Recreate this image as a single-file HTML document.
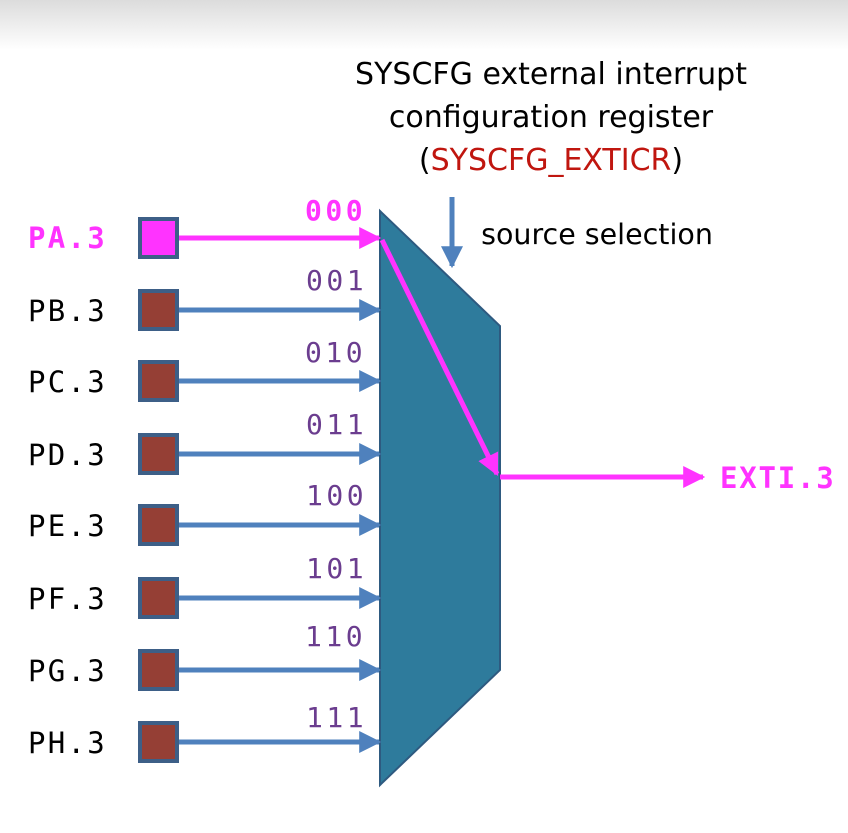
<!DOCTYPE html>
<html><head><meta charset="utf-8"><style>
html,body{margin:0;padding:0;background:#fff;}
svg{display:block;}
</style></head><body>
<svg width="848" height="833" viewBox="0 0 848 833" xmlns="http://www.w3.org/2000/svg">
<defs>
<linearGradient id="g" x1="0" y1="0" x2="0" y2="1">
<stop offset="0" stop-color="#dcdcdc"/><stop offset="1" stop-color="#ffffff"/>
</linearGradient>
<marker id="ab" viewBox="0 0 10 10" refX="9" refY="5" markerWidth="4.4" markerHeight="4.4" orient="auto" markerUnits="strokeWidth"><path d="M0,0 L10,5 L0,10 z" fill="#4f81bd"/></marker>
<marker id="am" viewBox="0 0 10 10" refX="9" refY="5" markerWidth="4.4" markerHeight="4.4" orient="auto" markerUnits="strokeWidth"><path d="M0,0 L10,5 L0,10 z" fill="#ff33ff"/></marker>
</defs>
<rect x="0" y="0" width="848" height="50" fill="url(#g)"/>
<g font-family="'DejaVu Sans','Liberation Sans',sans-serif" font-size="30" text-anchor="middle" fill="#000">
<text x="551" y="84">SYSCFG external interrupt</text>
<text x="551" y="127">configuration register</text>
<text x="551" y="170">(<tspan fill="#c0160f">SYSCFG_EXTICR</tspan>)</text>
<text x="597" y="244" font-size="28.5">source selection</text>
</g>
<line x1="452" y1="197" x2="452" y2="266" stroke="#4f81bd" stroke-width="5" marker-end="url(#ab)"/>
<polygon points="380,211 500,326 500,670 380,785" fill="#2e7b9c" stroke="#2e5a80" stroke-width="2"/>
<g stroke="#4f81bd" stroke-width="5" marker-end="url(#ab)">
<line x1="178" y1="310" x2="379" y2="310"/>
<line x1="178" y1="381" x2="379" y2="381"/>
<line x1="178" y1="454" x2="379" y2="454"/>
<line x1="178" y1="525" x2="379" y2="525"/>
<line x1="178" y1="598" x2="379" y2="598"/>
<line x1="178" y1="670" x2="379" y2="670"/>
<line x1="178" y1="742" x2="379" y2="742"/>
</g>
<g stroke="#ff33ff" stroke-width="5" fill="none">
<line x1="178" y1="238" x2="379" y2="238" marker-end="url(#am)"/>
<polyline points="382,240 497,474" marker-end="url(#am)"/>
<line x1="500" y1="477" x2="703" y2="477" marker-end="url(#am)"/>
</g>
<g stroke="#3d5f87" stroke-width="4" fill="#953f35">
<rect x="140" y="219" width="37" height="38" fill="#ff33ff"/>
<rect x="140" y="291" width="37" height="38"/>
<rect x="140" y="362" width="37" height="38"/>
<rect x="140" y="435" width="37" height="38"/>
<rect x="140" y="506" width="37" height="38"/>
<rect x="140" y="579" width="37" height="38"/>
<rect x="140" y="651" width="37" height="38"/>
<rect x="140" y="723" width="37" height="38"/>
</g>
<g font-family="'DejaVu Sans Mono','Liberation Mono',monospace" font-size="29" fill="#000" letter-spacing="2.3">
<text x="28" y="248" fill="#ff33ff" font-weight="bold">PA.3</text>
<text x="28" y="321">PB.3</text>
<text x="28" y="392">PC.3</text>
<text x="28" y="465">PD.3</text>
<text x="28" y="536">PE.3</text>
<text x="28" y="609">PF.3</text>
<text x="28" y="681">PG.3</text>
<text x="28" y="753">PH.3</text>
<text x="720" y="488" fill="#ff33ff" font-weight="bold" letter-spacing="1.8">EXTI.3</text>
</g>
<g font-family="'DejaVu Sans Mono','Liberation Mono',monospace" font-size="28" fill="#6b3d8f" letter-spacing="3.5">
<text x="305" y="220" fill="#ff33ff" font-weight="bold">000</text>
<text x="306" y="290">001</text>
<text x="305" y="362">010</text>
<text x="306" y="434">011</text>
<text x="306" y="505">100</text>
<text x="306" y="578">101</text>
<text x="305" y="646">110</text>
<text x="306" y="727">111</text>
</g>
</svg>
</body></html>
